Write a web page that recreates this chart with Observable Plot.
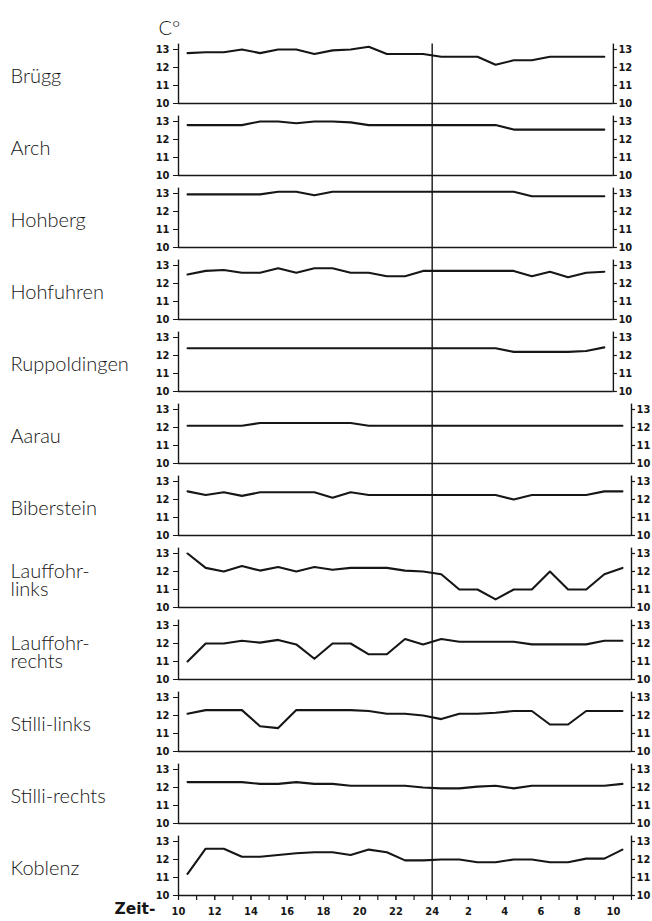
<!DOCTYPE html>
<html>
<head>
<meta charset="utf-8">
<script src="https://cdn.jsdelivr.net/npm/d3@7"></script>
<script src="https://cdn.jsdelivr.net/npm/@observablehq/plot@0.6"></script>
<style>
  body { margin: 0; background: #fff; }
</style>
</head>
<body>
<div id="chart"></div>
<script>
// ---- data ----
const stations = ["Brügg","Arch","Hohberg","Hohfuhren","Ruppoldingen","Aarau","Biberstein","Lauffohr-links","Lauffohr-rechts","Stilli-links","Stilli-rechts","Koblenz"];
const stationLabels = ["Brügg","Arch","Hohberg","Hohfuhren","Ruppoldingen","Aarau","Biberstein","Lauffohr-\nlinks","Lauffohr-\nrechts","Stilli-links","Stilli-rechts","Koblenz"];
// hourly readings at half hours, 10.30 to 10.30 next day (hours > 24 belong to the next day)
const hours = [10.5,11.5,12.5,13.5,14.5,15.5,16.5,17.5,18.5,19.5,20.5,21.5,22.5,23.5,24.5,25.5,26.5,27.5,28.5,29.5,30.5,31.5,32.5,33.5,34.5];

const brugg        = [12.8,12.85,12.85,13.0,12.8,13.0,13.0,12.75,12.95,13.0,13.15,12.75,12.75,12.75,12.6,12.6,12.6,12.15,12.4,12.4,12.6,12.6,12.6,12.6];
const arch         = [12.8,12.8,12.8,12.8,13.0,13.0,12.9,13.0,13.0,12.95,12.8,12.8,12.8,12.8,12.8,12.8,12.8,12.8,12.55,12.55,12.55,12.55,12.55,12.55];
const hohberg      = [12.95,12.95,12.95,12.95,12.95,13.1,13.1,12.9,13.1,13.1,13.1,13.1,13.1,13.1,13.1,13.1,13.1,13.1,13.1,12.85,12.85,12.85,12.85,12.85];
const hohfuhren    = [12.5,12.7,12.75,12.6,12.6,12.85,12.6,12.85,12.85,12.6,12.6,12.4,12.4,12.7,12.7,12.7,12.7,12.7,12.7,12.4,12.65,12.35,12.6,12.65];
const ruppoldingen = [12.4,12.4,12.4,12.4,12.4,12.4,12.4,12.4,12.4,12.4,12.4,12.4,12.4,12.4,12.4,12.4,12.4,12.4,12.2,12.2,12.2,12.2,12.25,12.45];
const aarau        = [12.1,12.1,12.1,12.1,12.25,12.25,12.25,12.25,12.25,12.25,12.1,12.1,12.1,12.1,12.1,12.1,12.1,12.1,12.1,12.1,12.1,12.1,12.1,12.1,12.1];
const biberstein   = [12.45,12.25,12.4,12.2,12.4,12.4,12.4,12.4,12.1,12.4,12.25,12.25,12.25,12.25,12.25,12.25,12.25,12.25,12.0,12.25,12.25,12.25,12.25,12.45,12.45];
const lauffohrLinks  = [13.0,12.2,12.0,12.3,12.05,12.25,12.0,12.25,12.1,12.2,12.2,12.2,12.05,12.0,11.85,11.0,11.0,10.45,11.0,11.0,12.0,11.0,11.0,11.85,12.2];
const lauffohrRechts = [11.0,12.0,12.0,12.15,12.05,12.2,11.95,11.15,12.0,12.0,11.4,11.4,12.25,11.95,12.25,12.1,12.1,12.1,12.1,11.95,11.95,11.95,11.95,12.15,12.15];
const stilliLinks    = [12.1,12.3,12.3,12.3,11.4,11.3,12.3,12.3,12.3,12.3,12.25,12.1,12.1,12.0,11.8,12.1,12.1,12.15,12.25,12.25,11.5,11.5,12.25,12.25,12.25];
const stilliRechts   = [12.3,12.3,12.3,12.3,12.2,12.2,12.3,12.2,12.2,12.1,12.1,12.1,12.1,12.0,11.95,11.95,12.05,12.1,11.95,12.1,12.1,12.1,12.1,12.1,12.2];
const koblenz        = [11.2,12.6,12.6,12.15,12.15,12.25,12.35,12.4,12.4,12.25,12.55,12.4,11.95,11.95,12.0,12.0,11.85,11.85,12.0,12.0,11.85,11.85,12.05,12.05,12.55];

const yTicks = [10, 11, 12, 13];
const yTickLabels = ["10", "11", "12", "13"];
const xTicks = [10,12,14,16,18,20,22,24,26,28,30,32,34];
const xTickLabels = ["10","12","14","16","18","20","22","24","2","4","6","8","10"];
const hourTicks = [10,11,12,13,14,15,16,17,18,19,20,21,22,23,24,25,26,27,28,29,30,31,32,33,34,35];
const midnight = 24;

// ---- derived tables ----
const series = [brugg, arch, hohberg, hohfuhren, ruppoldingen, aarau, biberstein, lauffohrLinks, lauffohrRechts, stilliLinks, stilliRechts, koblenz];
const yMin = 10, axisTop = 13.3, yMax = 14, xMin = 10;
const rows = stations.flatMap((s, i) => series[i].map((v, j) => ({station: s, hour: hours[j], temp: v})));
const frames = stations.map((s, i) => ({
  station: s,
  label: stationLabels[i],
  end: hours[series[i].length - 1] + 0.5,
  top: i === 0 ? axisTop : yMax
}));
const rightTicks = frames.flatMap(f => yTicks.map((v, k) => ({station: f.station, end: f.end, v, label: yTickLabels[k]})));
const lastStation = stations[stations.length - 1];
const bottomTicks = hourTicks.map(h => ({station: lastStation, h}));

const ink = "#161616";
const tickFont = "'Liberation Sans Narrow', 'DejaVu Sans Condensed', 'Arial Narrow', sans-serif";
const chart = Plot.plot({
  width: 652,
  height: 921,
  marginTop: 31,
  marginBottom: 26,
  marginLeft: 178,
  marginRight: 21,
  style: {
    fontFamily: tickFont,
    fontSize: "11px",
    fontWeight: "bold",
    color: ink,
    background: "#fff"
  },
  fy: {domain: stations, padding: 0, axis: null},
  x: {
    domain: [xMin, 35],
    ticks: xTicks,
    tickFormat: d => xTickLabels[xTicks.indexOf(d)],
    tickSize: 5,
    tickPadding: 7,
    label: null
  },
  y: {
    domain: [yMin, yMax],
    ticks: yTicks,
    tickFormat: d => yTickLabels[yTicks.indexOf(d)],
    tickSize: 5,
    tickPadding: 4,
    label: null
  },
  marks: [
    // left axis line
    Plot.ruleX(frames, {fy: "station", x: xMin, y1: yMin, y2: axisTop, stroke: ink, strokeWidth: 1.4}),
    // right axis line
    Plot.ruleX(frames, {fy: "station", x: "end", y1: yMin, y2: axisTop, stroke: ink, strokeWidth: 1.4}),
    // baseline of each panel
    Plot.ruleY(frames, {fy: "station", y: yMin, x1: xMin, x2: "end", stroke: ink, strokeWidth: 1.4}),
    // right ticks + labels
    Plot.ruleY(rightTicks, {fy: "station", y: "v", x1: "end", x2: "end", insetRight: -4, stroke: ink, strokeWidth: 1.2}),
    Plot.text(rightTicks, {fy: "station", x: "end", y: "v", text: "label", dx: 5, textAnchor: "start", fill: ink, fontSize: 11}),
    // midnight line
    Plot.ruleX(frames, {fy: "station", x: midnight, y1: yMin, y2: "top", stroke: ink, strokeWidth: 1.4}),
    // hourly ticks on the time axis
    Plot.ruleX(bottomTicks, {fy: "station", x: "h", y1: yMin, y2: yMin, insetBottom: -5, stroke: ink, strokeWidth: 1.2}),
    // temperature lines
    Plot.line(rows, {fy: "station", x: "hour", y: "temp", stroke: ink, strokeWidth: 2.1, strokeLinejoin: "round"}),
    // station names
    Plot.text(frames, {
      fy: "station", text: "label", frameAnchor: "left", dx: -168, dy: 10,
      textAnchor: "start", lineHeight: 0.9,
      fontFamily: "Lato, 'DejaVu Sans', sans-serif", fontSize: 20, fontWeight: 300, fill: ink
    }),
    // unit label
    Plot.text([frames[0]], {
      fy: "station", text: () => "C°", frameAnchor: "top-left", dx: -20, dy: -11,
      textAnchor: "start", fontFamily: "Lato, 'DejaVu Sans', sans-serif", fontSize: 20, fontWeight: 300, fill: ink
    }),
    // time label
    Plot.text([frames[frames.length - 1]], {
      fy: "station", text: () => "Zeit-", frameAnchor: "bottom-left", dx: -64, dy: 18,
      textAnchor: "start", fontFamily: "'DejaVu Sans', sans-serif", fontSize: 15.5, fontWeight: "bold", fill: ink
    })
  ]
});
document.getElementById("chart").append(chart);
</script>
</body>
</html>
